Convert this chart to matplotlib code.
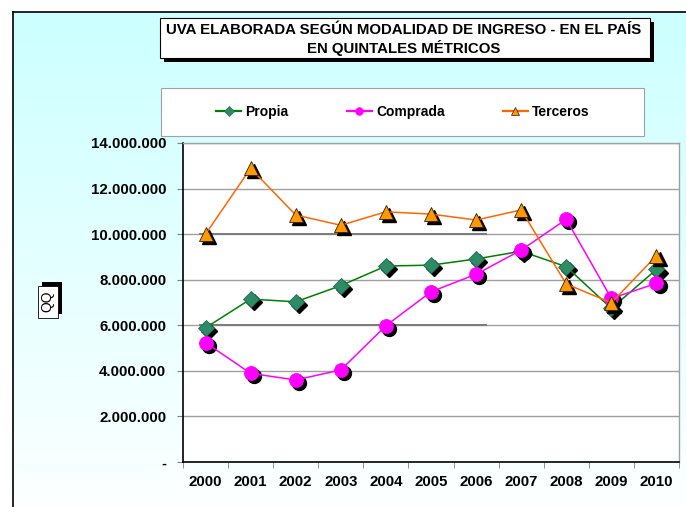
import numpy as np
import matplotlib
matplotlib.use("Agg")
import matplotlib.pyplot as plt
from matplotlib.patches import Rectangle
from matplotlib.lines import Line2D
import matplotlib.transforms as mtransforms

plt.rcParams['font.family'] = ['Liberation Sans', 'DejaVu Sans']

years = ['2000', '2001', '2002', '2003', '2004', '2005', '2006', '2007', '2008', '2009', '2010']
propia = [5.89e6, 7.15e6, 7.03e6, 7.74e6, 8.60e6, 8.64e6, 8.91e6, 9.25e6, 8.57e6, 6.74e6, 8.45e6]
comprada = [5.24e6, 3.89e6, 3.60e6, 4.04e6, 5.98e6, 7.47e6, 8.24e6, 9.30e6, 10.65e6, 7.18e6, 7.84e6]
terceros = [10.0e6, 12.89e6, 10.84e6, 10.39e6, 10.98e6, 10.88e6, 10.62e6, 11.06e6, 7.81e6, 6.99e6, 9.05e6]
yticks = [0, 2e6, 4e6, 6e6, 8e6, 10e6, 12e6, 14e6]
ytick_labels = ['-', '2.000.000', '4.000.000', '6.000.000', '8.000.000', '10.000.000', '12.000.000', '14.000.000']
title_lines = ['UVA ELABORADA SEGÚN MODALIDAD DE INGRESO - EN EL PAÍS', 'EN QUINTALES MÉTRICOS']

W, H = 686, 507
fig = plt.figure(figsize=(W / 100, H / 100), dpi=100)
fig.patch.set_facecolor('white')

def fx(x):
    return x / W

def fy(y):
    return 1 - y / H

# background gradient
bg = fig.add_axes([fx(13), fy(507), fx(686 - 13), (507 - 12) / H], zorder=0)
grad = np.linspace(0, 1, 256).reshape(-1, 1)
top = np.array([0.80, 1.0, 1.0])
bot = np.array([0.99, 1.0, 1.0])
img = top[None, None, :] * (1 - grad[:, :, None]) + bot[None, None, :] * grad[:, :, None]
bg.imshow(img, aspect='auto', extent=[0, 1, 0, 1])
bg.set_axis_off()

# outer frame lines
fig.add_artist(Line2D([fx(13), fx(13)], [fy(12), fy(507)], color='black', lw=1.2, zorder=1))
fig.add_artist(Line2D([fx(13), fx(686)], [fy(12), fy(12)], color='black', lw=1.2, zorder=1))

# title box
fig.add_artist(Rectangle((fx(164), fy(62)), fx(490), 40 / H, facecolor='black', edgecolor='none', zorder=2))
fig.add_artist(Rectangle((fx(160), fy(58)), fx(490), 40 / H, facecolor='white', edgecolor='black', lw=0.8, zorder=3))
fig.text(fx(404), fy(30), title_lines[0], ha='center', va='center', fontsize=10.8, fontweight='bold', zorder=4)
fig.text(fx(404), fy(47.5), title_lines[1], ha='center', va='center', fontsize=10.8, fontweight='bold', zorder=4)

# legend box
fig.add_artist(Rectangle((fx(160.5), fy(136)), fx(483.5), 48 / H, facecolor='white', edgecolor='#a0a0a0', lw=0.8, zorder=2))

# y label box
fig.add_artist(Rectangle((fx(41.7), fy(313.7)), fx(20), 32 / H, facecolor='black', edgecolor='none', zorder=2))
fig.add_artist(Rectangle((fx(37.7), fy(317.7)), fx(20), 32 / H, facecolor='white', edgecolor='black', lw=0.6, zorder=3))
fig.text(fx(47.7), fy(301.7), 'QQ', rotation=90, ha='center', va='center', fontsize=10, zorder=4)

ax = fig.add_axes([fx(183), fy(462), fx(679 - 183), (462 - 143) / H], zorder=5)
ax.set_facecolor('white')
x = np.arange(len(years))
ax.set_xlim(-0.5, len(years) - 0.5)
ax.set_ylim(0, 14e6)

for v in yticks[1:]:
    ax.axhline(v, color='#a0a0a0', lw=1.0, zorder=1)
for v in [6e6, 10e6]:
    ax.axhline(v, xmin=0.035, xmax=0.61, color='#7a7a7a', lw=1.4, zorder=1)

shadow = mtransforms.offset_copy(ax.transData, fig=fig, x=2.2, y=-2.2, units='points')

series = [
    ('Propia', propia, '#008000', 'D', '#2e8b66', '#1f6e4e', 8.5),
    ('Comprada', comprada, '#ff00ff', 'o', '#ff00ff', '#ff00ff', 10),
    ('Terceros', terceros, '#ff6600', '^', '#ff9900', '#3a1a00', 10),
]
handles = []
for i, (name, vals, lc, mk, mfc, mec, ms) in enumerate(series):
    z = 3 + i * 3
    ax.plot(x, vals, linestyle='none', marker=mk, markersize=ms, color='black',
            markeredgecolor='black', transform=shadow, zorder=z)
    ax.plot(x, vals, color=lc, lw=1.1, zorder=z + 1)
    ax.plot(x, vals, linestyle='none', marker=mk, markersize=ms, markerfacecolor=mfc,
            markeredgecolor=mec, markeredgewidth=0.6, zorder=z + 2)
    handles.append(Line2D([], [], color=lc, lw=1.6, marker=mk, markersize=ms * 0.55,
                          markerfacecolor=mfc, markeredgecolor=mec, markeredgewidth=0.5, label=name))

ax.set_xticks(x)
ax.set_xticklabels(years, fontsize=10.8, fontweight='bold')
ax.set_xticks(np.arange(-0.5, len(years), 1), minor=True)
ax.tick_params(axis='x', which='major', length=0, pad=9)
ax.tick_params(axis='x', which='minor', length=4, color='#808080', direction='out')
ax.set_yticks(yticks)
ax.set_yticklabels(ytick_labels, fontsize=10.8, fontweight='bold')
ax.tick_params(axis='y', length=4, color='#808080', direction='out', pad=8)

for s in ['top', 'right']:
    ax.spines[s].set_color('#a0a0a0')
    ax.spines[s].set_linewidth(1.0)
for s in ['left', 'bottom']:
    ax.spines[s].set_color('black')
    ax.spines[s].set_linewidth(1.2)

leg = fig.legend(handles=handles, loc='center', bbox_to_anchor=(fx(403), fy(112)), ncol=3,
                 frameon=False, handlelength=1.8, handletextpad=0.3, columnspacing=4.2,
                 prop={'weight': 'bold', 'size': 10})
leg.set_zorder(6)

fig.savefig('out.png', dpi=100)
